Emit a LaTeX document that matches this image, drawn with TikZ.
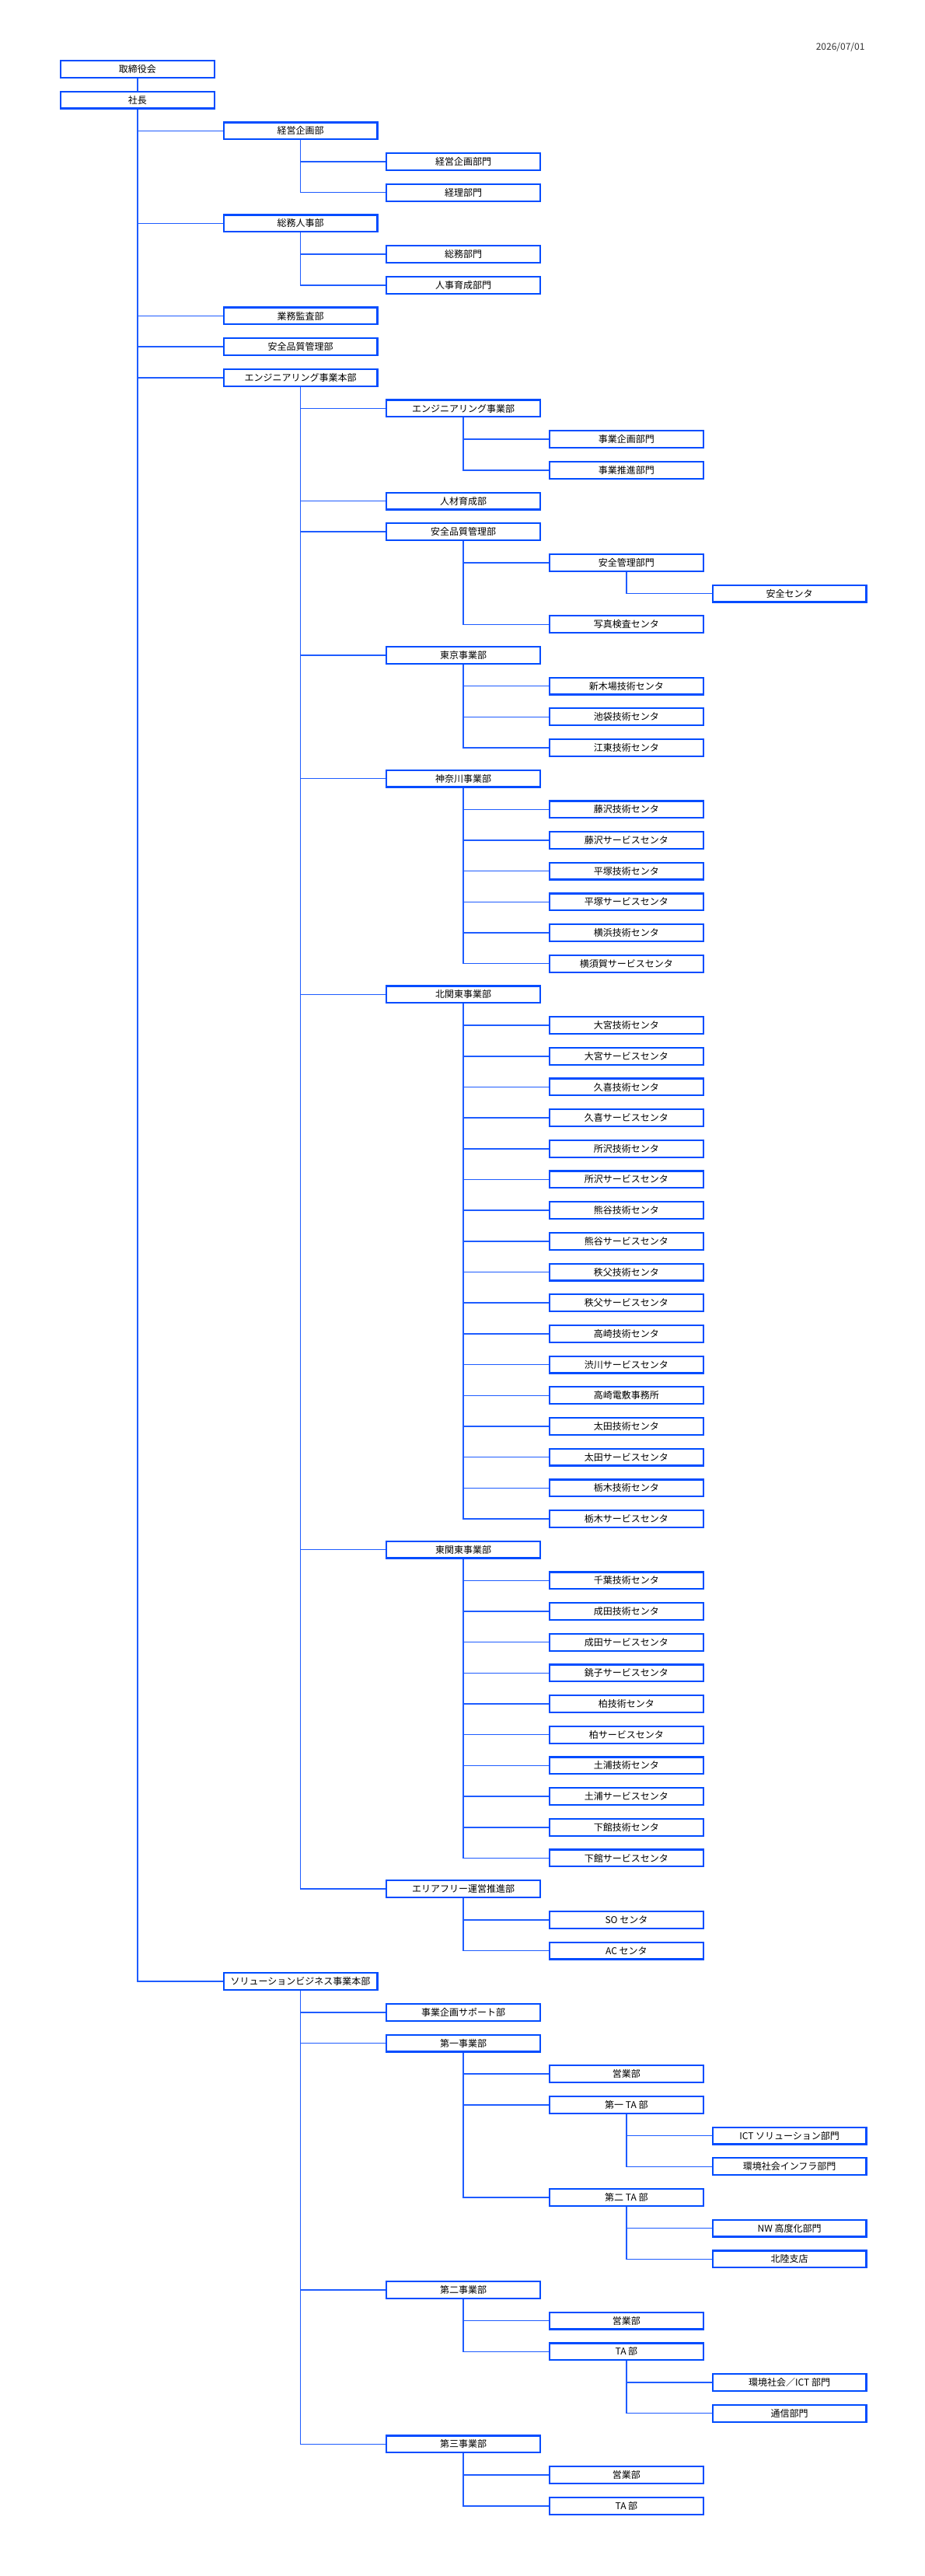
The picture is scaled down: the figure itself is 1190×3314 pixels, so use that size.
\documentclass[tikz,border=0pt]{standalone}
\usepackage{fontspec}
\setmainfont{Noto Sans CJK JP}
\usepackage{tikz}
\definecolor{orgblue}{RGB}{0,76,255}
\definecolor{linkblue}{RGB}{30,92,255}

\begin{document}
\begin{tikzpicture}[x=209.7pt, y=39.68pt,
    box/.style={draw=orgblue, line width=2.2pt, fill=white, minimum width=197.8pt,
      minimum height=21.8pt, inner sep=0pt, font=\fontsize{12}{14}\selectfont},
    link/.style={draw=linkblue, line width=1.5pt}]
  \useasboundingbox (-176.8pt,49.32pt) rectangle (1013.2pt,-3264.68pt);
  \node[anchor=east, text=black!80, font=\fontsize{12}{14}\selectfont] (date) at (939.2pt,-11.2pt) {2026/07/01};

  % top
  \node[box] (1) at (0,-1) {取締役会};
  \node[box] (2) at (0,-2) {社長};
  \node[box] (3) at (1,-3) {経営企画部};
  \node[box] (4) at (2,-4) {経営企画部門};
  \node[box] (5) at (2,-5) {経理部門};
  \node[box] (6) at (1,-6) {総務人事部};
  \node[box] (7) at (2,-7) {総務部門};
  \node[box] (8) at (2,-8) {人事育成部門};
  \node[box] (9) at (1,-9) {業務監査部};
  \node[box] (10) at (1,-10) {安全品質管理部};
  % engineering
  \node[box] (11) at (1,-11) {エンジニアリング事業本部};
  \node[box] (12) at (2,-12) {エンジニアリング事業部};
  \node[box] (13) at (3,-13) {事業企画部門};
  \node[box] (14) at (3,-14) {事業推進部門};
  \node[box] (15) at (2,-15) {人材育成部};
  \node[box] (16) at (2,-16) {安全品質管理部};
  \node[box] (17) at (3,-17) {安全管理部門};
  \node[box] (18) at (4,-18) {安全センタ};
  \node[box] (19) at (3,-19) {写真検査センタ};
  \node[box] (20) at (2,-20) {東京事業部};
  \node[box] (21) at (3,-21) {新木場技術センタ};
  \node[box] (22) at (3,-22) {池袋技術センタ};
  \node[box] (23) at (3,-23) {江東技術センタ};
  \node[box] (24) at (2,-24) {神奈川事業部};
  \node[box] (25) at (3,-25) {藤沢技術センタ};
  \node[box] (26) at (3,-26) {藤沢サービスセンタ};
  \node[box] (27) at (3,-27) {平塚技術センタ};
  \node[box] (28) at (3,-28) {平塚サービスセンタ};
  \node[box] (29) at (3,-29) {横浜技術センタ};
  \node[box] (30) at (3,-30) {横須賀サービスセンタ};
  \node[box] (31) at (2,-31) {北関東事業部};
  \node[box] (32) at (3,-32) {大宮技術センタ};
  \node[box] (33) at (3,-33) {大宮サービスセンタ};
  \node[box] (34) at (3,-34) {久喜技術センタ};
  \node[box] (35) at (3,-35) {久喜サービスセンタ};
  \node[box] (36) at (3,-36) {所沢技術センタ};
  \node[box] (37) at (3,-37) {所沢サービスセンタ};
  \node[box] (38) at (3,-38) {熊谷技術センタ};
  \node[box] (39) at (3,-39) {熊谷サービスセンタ};
  \node[box] (40) at (3,-40) {秩父技術センタ};
  \node[box] (41) at (3,-41) {秩父サービスセンタ};
  \node[box] (42) at (3,-42) {高崎技術センタ};
  \node[box] (43) at (3,-43) {渋川サービスセンタ};
  \node[box] (44) at (3,-44) {高崎電敷事務所};
  \node[box] (45) at (3,-45) {太田技術センタ};
  \node[box] (46) at (3,-46) {太田サービスセンタ};
  \node[box] (47) at (3,-47) {栃木技術センタ};
  \node[box] (48) at (3,-48) {栃木サービスセンタ};
  \node[box] (49) at (2,-49) {東関東事業部};
  \node[box] (50) at (3,-50) {千葉技術センタ};
  \node[box] (51) at (3,-51) {成田技術センタ};
  \node[box] (52) at (3,-52) {成田サービスセンタ};
  \node[box] (53) at (3,-53) {銚子サービスセンタ};
  \node[box] (54) at (3,-54) {柏技術センタ};
  \node[box] (55) at (3,-55) {柏サービスセンタ};
  \node[box] (56) at (3,-56) {土浦技術センタ};
  \node[box] (57) at (3,-57) {土浦サービスセンタ};
  \node[box] (58) at (3,-58) {下館技術センタ};
  \node[box] (59) at (3,-59) {下館サービスセンタ};
  \node[box] (60) at (2,-60) {エリアフリー運営推進部};
  \node[box] (61) at (3,-61) {SO センタ};
  \node[box] (62) at (3,-62) {AC センタ};
  % solution business
  \node[box] (63) at (1,-63) {ソリューションビジネス事業本部};
  \node[box] (64) at (2,-64) {事業企画サポート部};
  \node[box] (65) at (2,-65) {第一事業部};
  \node[box] (66) at (3,-66) {営業部};
  \node[box] (67) at (3,-67) {第一 TA 部};
  \node[box] (68) at (4,-68) {ICT ソリューション部門};
  \node[box] (69) at (4,-69) {環境社会インフラ部門};
  \node[box] (70) at (3,-70) {第二 TA 部};
  \node[box] (71) at (4,-71) {NW 高度化部門};
  \node[box] (72) at (4,-72) {北陸支店};
  \node[box] (73) at (2,-73) {第二事業部};
  \node[box] (74) at (3,-74) {営業部};
  \node[box] (75) at (3,-75) {TA 部};
  \node[box] (76) at (4,-76) {環境社会／ICT 部門};
  \node[box] (77) at (4,-77) {通信部門};
  \node[box] (78) at (2,-78) {第三事業部};
  \node[box] (79) at (3,-79) {営業部};
  \node[box] (80) at (3,-80) {TA 部};

  % connectors: parent bottom down, then across to each child
  \draw[link] (1) -- (2);
  \foreach \c in {3,6,9,10,11,63} \draw[link] (2.south) |- (\c.west);
  \foreach \c in {4,5} \draw[link] (3.south) |- (\c.west);
  \foreach \c in {7,8} \draw[link] (6.south) |- (\c.west);
  \foreach \c in {12,15,16,20,24,31,49,60} \draw[link] (11.south) |- (\c.west);
  \foreach \c in {13,14} \draw[link] (12.south) |- (\c.west);
  \foreach \c in {17,19} \draw[link] (16.south) |- (\c.west);
  \draw[link] (17.south) |- (18.west);
  \foreach \c in {21,...,23} \draw[link] (20.south) |- (\c.west);
  \foreach \c in {25,...,30} \draw[link] (24.south) |- (\c.west);
  \foreach \c in {32,...,48} \draw[link] (31.south) |- (\c.west);
  \foreach \c in {50,...,59} \draw[link] (49.south) |- (\c.west);
  \foreach \c in {61,62} \draw[link] (60.south) |- (\c.west);
  \foreach \c in {64,65,73,78} \draw[link] (63.south) |- (\c.west);
  \foreach \c in {66,67,70} \draw[link] (65.south) |- (\c.west);
  \foreach \c in {68,69} \draw[link] (67.south) |- (\c.west);
  \foreach \c in {71,72} \draw[link] (70.south) |- (\c.west);
  \foreach \c in {74,75} \draw[link] (73.south) |- (\c.west);
  \foreach \c in {76,77} \draw[link] (75.south) |- (\c.west);
  \foreach \c in {79,80} \draw[link] (78.south) |- (\c.west);
\end{tikzpicture}
\end{document}
